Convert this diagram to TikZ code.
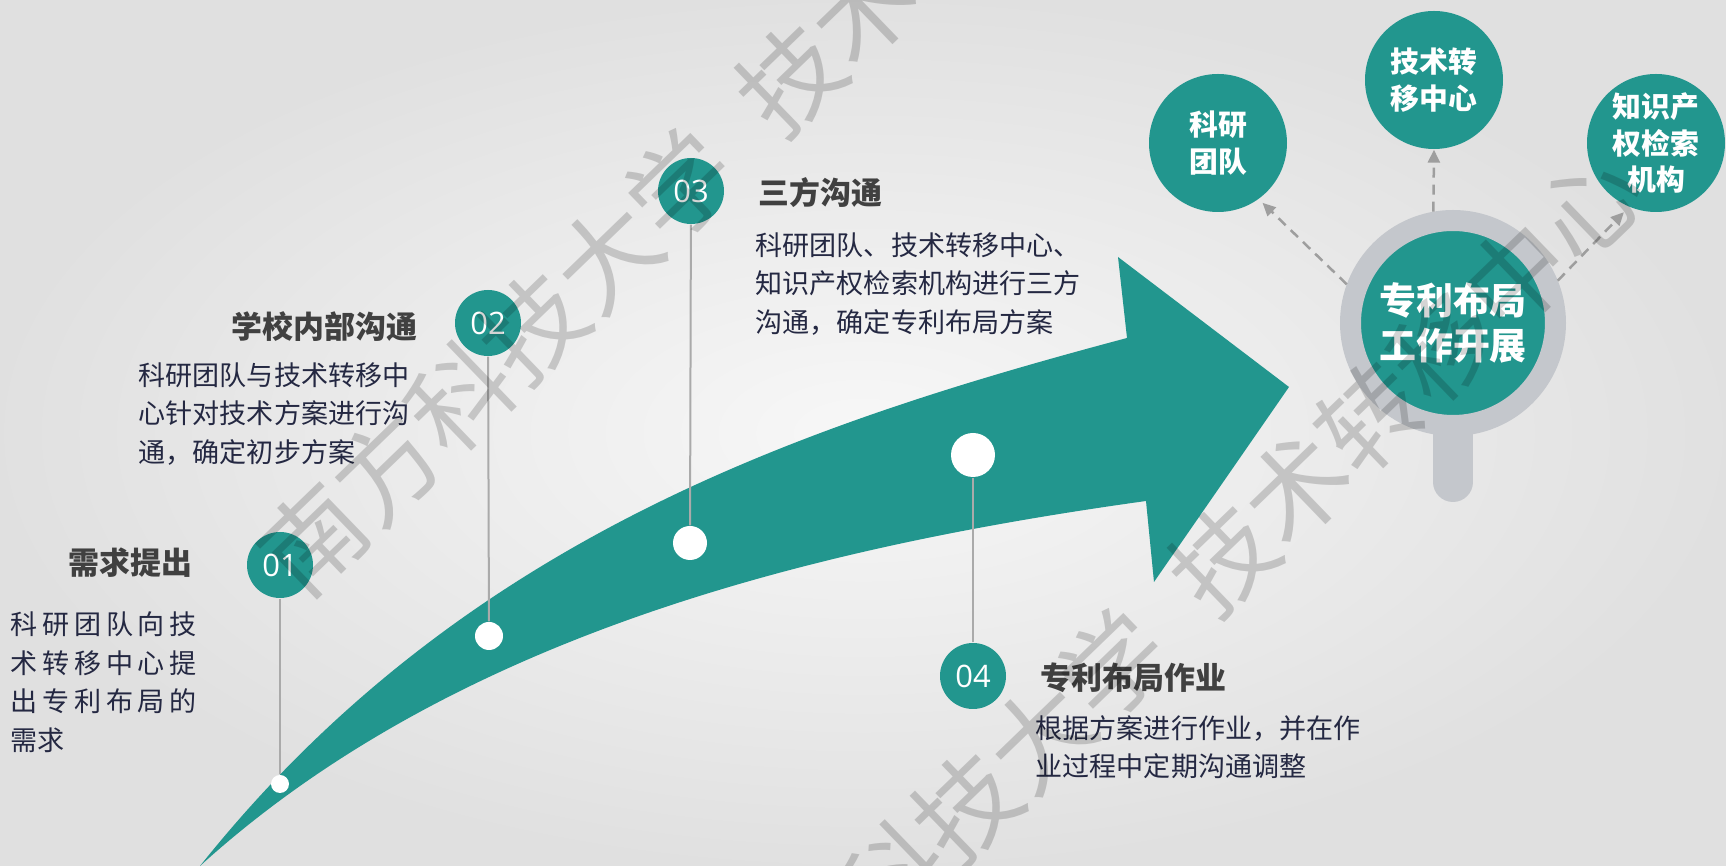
\documentclass[tikz,border=0pt]{standalone}
\usepackage{fontspec}
\setmainfont{Noto Sans CJK SC}
\newfontfamily\numfont{Open Sans}
\usetikzlibrary{arrows.meta}

\definecolor{arrowteal}{RGB}{34,150,142}
\definecolor{stemgrey}{RGB}{170,170,170}
\definecolor{linkgrey}{RGB}{158,158,158}
\definecolor{lensgrey}{RGB}{196,199,204}
\definecolor{headgrey}{RGB}{64,64,64}
\definecolor{bodyblue}{RGB}{36,40,66}

\tikzstyle{numc} = [circle, fill=arrowteal, minimum size=6.6mm, inner sep=0pt, text=white, font=\numfont\fontsize{8.8}{10}\selectfont]
\tikzstyle{wdot} = [circle, fill=white, inner sep=0pt]
\tikzstyle{stem} = [draw=stemgrey, line width=0.2mm]
\tikzstyle{steptitle} = [font=\bfseries\fontsize{8.8}{11}\selectfont, text=headgrey, inner sep=0pt]
\tikzstyle{steptext} = [font=\fontsize{7.7}{10.95}\selectfont, text=bodyblue, align=left, inner sep=0pt]
\tikzstyle{party} = [circle, fill=arrowteal, minimum size=13.8mm, inner sep=0pt, text=white, align=center, font=\bfseries\fontsize{8.2}{10.5}\selectfont]
\tikzstyle{lens} = [circle, fill=arrowteal, draw=lensgrey, line width=2.1mm, minimum size=20.5mm, inner sep=0pt, text=white, align=center, font=\bfseries\fontsize{10.5}{12.8}\selectfont]
\tikzstyle{link} = [draw=linkgrey, line width=0.25mm, dash pattern=on 1mm off 0.7mm, -{Triangle[length=1.3mm,width=1.2mm]}]
\tikzstyle{watermark} = [font=\fontsize{29}{29}\selectfont, text=black, text opacity=0.17, inner sep=0pt]

\begin{document}
\begin{tikzpicture}[x=0.1mm, y=-0.1mm]
\useasboundingbox (0,0) rectangle (1726,866);
\shade[inner color=white!97!black, outer color=white!88!black] (0,0) rectangle (1726,866);

% the big arrow
\fill[arrowteal] (200,866) .. controls (460,540) and (800,425) .. (1127,338)
    -- (1118,257) -- (1289,387) -- (1154,582) -- (1146,501)
    .. controls (830,545) and (460,630) .. cycle;

% steps
\node[numc] (n1) at (280,565) {01};
\node[numc] (n2) at (488,323) {02};
\node[numc] (n3) at (691,191) {03};
\node[numc] (n4) at (973,676) {04};
\node[wdot, minimum size=1.8mm] (d1) at (280,784) {};
\node[wdot, minimum size=2.8mm] (d2) at (489,636) {};
\node[wdot, minimum size=3.4mm] (d3) at (690,543) {};
\node[wdot, minimum size=4.4mm] (d4) at (973,455) {};
\draw[stem] (n1) -- (d1);
\draw[stem] (n2) -- (d2);
\draw[stem] (n3) -- (d3);
\draw[stem] (n4) -- (d4);

\node[steptitle, anchor=east] (t1) at (193,563) {需求提出};
\node[steptext, anchor=west] (b1) at (10,682) {%
    \makebox[18.6mm][s]{科\hfill 研\hfill 团\hfill 队\hfill 向\hfill 技}\\
    \makebox[18.6mm][s]{术\hfill 转\hfill 移\hfill 中\hfill 心\hfill 提}\\
    \makebox[18.6mm][s]{出\hfill 专\hfill 利\hfill 布\hfill 局\hfill 的}\\
    需求};
\node[steptitle, anchor=east] (t2) at (418,327) {学校内部沟通};
\node[steptext, anchor=west] (b2) at (138,414) {科研团队与技术转移中\\心针对技术方案进行沟\\通，确定初步方案};
\node[steptitle, anchor=west] (t3) at (758,193) {三方沟通};
\node[steptext, anchor=west] (b3) at (755,284) {科研团队、技术转移中心、\\知识产权检索机构进行三方\\沟通，确定专利布局方案};
\node[steptitle, anchor=west] (t4) at (1040,678) {专利布局作业};
\node[steptext, anchor=west] (b4) at (1035,747) {根据方案进行作业，并在作\\业过程中定期沟通调整};

% magnifier
\draw[line width=4mm, line cap=round, draw=lensgrey] (1453,420) -- (1453,482);
\node[lens] (lens) at (1453,323) {专利布局\\工作开展};
\node[party] (keyan) at (1218,143) {科研\\团队};
\node[party] (tech) at (1434,80) {技术转\\移中心};
\node[party] (ipr) at (1656,143) {知识产\\权检索\\机构};
\draw[link, shorten >=0.5mm] (lens.160) -- (keyan.306);
\draw[link] (lens.100) -- (tech.270);
\draw[link, shorten >=0.7mm] (lens.22) -- (ipr.247);

% watermark
\node[watermark, rotate=44] (wmA) at (735,132) {南方科技大学\hspace{0.5em}技术转移中心};
\node[watermark, rotate=44] (wmB) at (1168,612) {南方科技大学\hspace{0.5em}技术转移中心};
\end{tikzpicture}
\end{document}
